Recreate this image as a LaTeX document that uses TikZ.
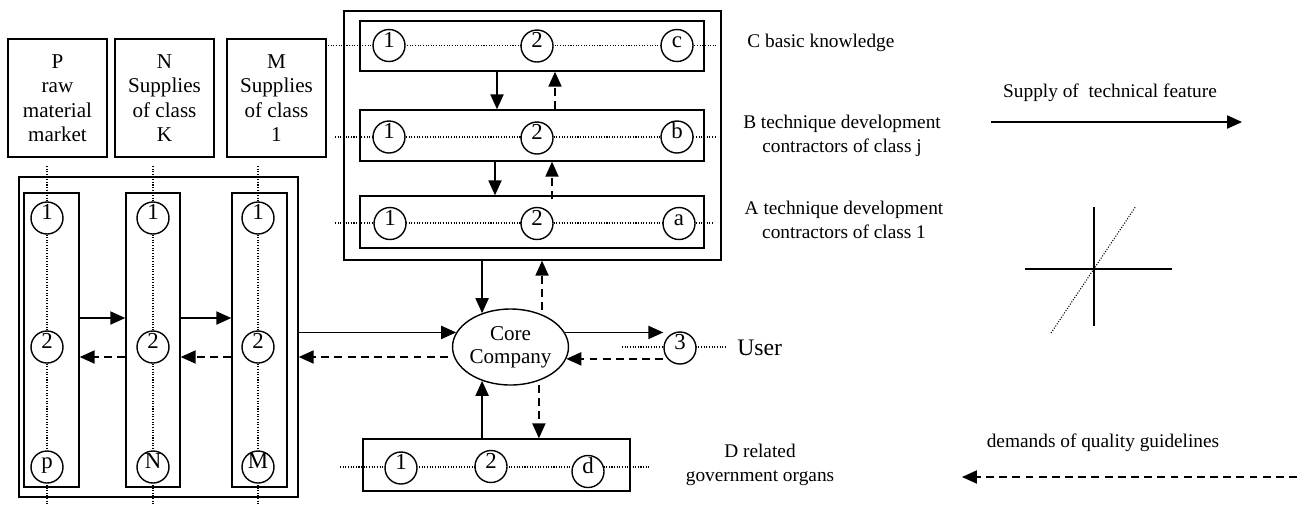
\documentclass[tikz,border=0pt]{standalone}
\usepackage{fontspec}
\setmainfont{Liberation Serif}
\usetikzlibrary{arrows.meta,calc,shapes.geometric}
\newlength\pxu
\setlength\pxu{0.02cm}
\tikzset{
  box/.style={draw, line width=0.8pt, inner sep=0pt},
  boxtxt/.style={box, align=center, font=\fontsize{12}{13.9}\selectfont},
  circ/.style={circle, draw, fill=white, line width=0.8pt, minimum size=32\pxu,
    inner sep=0pt, font=\fontsize{13}{13}\selectfont},
  dotline/.style={line width=0.6pt, dash pattern=on 0.6pt off 0.9pt},
  sol/.style={line width=0.8pt, -{Triangle[length=8.5pt,width=7.5pt]}},
  dsh/.style={sol, dash pattern=on 4.5pt off 3pt},
  lbl/.style={align=center, font=\fontsize{11}{13.6}\selectfont, inner sep=0pt},
}
% circle labels sit in the upper half, baseline near the centre
\newcommand\ctext[1]{\raisebox{-0.9pt}[0pt][0pt]{#1}}
\begin{document}
\begin{tikzpicture}[x=\pxu, y=-\pxu]
\useasboundingbox (0,0) rectangle (1297,505);

% ---------- supplier chain (left) ----------
\node[boxtxt, minimum width=99\pxu, minimum height=118\pxu] (P) at (57.5,98) {P\\raw\\material\\market};
\node[boxtxt, minimum width=99\pxu, minimum height=118\pxu] (N) at (164.5,98) {N\\Supplies\\of class\\K};
\node[boxtxt, minimum width=99\pxu, minimum height=118\pxu] (M) at (276.5,98) {M\\Supplies\\of class\\1};

\node[box, minimum width=279\pxu, minimum height=320\pxu] (chain) at (158.5,337) {};
\node[box, minimum width=55\pxu, minimum height=294\pxu] (pcol) at (51.5,340) {};
\node[box, minimum width=54\pxu, minimum height=294\pxu] (ncol) at (153,340) {};
\node[box, minimum width=55\pxu, minimum height=294\pxu] (mcol) at (259.5,340) {};

\draw[dotline] (47,166) -- (47,505);
\draw[dotline] (153,166) -- (153,505);
\draw[dotline] (258,166) -- (258,505);

\node[circ] (p1) at (47,218) {\ctext{1}};
\node[circ] (p2) at (47,347) {\ctext{2}};
\node[circ] (pp) at (47,467) {\ctext{p}};
\node[circ] (n1) at (153,218) {\ctext{1}};
\node[circ] (n2) at (153,347) {\ctext{2}};
\node[circ] (nn) at (153,467) {\ctext{N}};
\node[circ] (m1) at (258,218) {\ctext{1}};
\node[circ] (m2) at (258,347) {\ctext{2}};
\node[circ] (mm) at (258,467) {\ctext{M}};

\draw[sol] (pcol.east |- 0,318) -- (ncol.west |- 0,318);
\draw[sol] (ncol.east |- 0,318) -- (mcol.west |- 0,318);
\draw[dsh] (ncol.west |- 0,357) -- (pcol.east |- 0,357);
\draw[dsh] (mcol.west |- 0,357) -- (ncol.east |- 0,357);

% ---------- technique contractors (top) ----------
\node[box, minimum width=377\pxu, minimum height=249\pxu] (top) at (532.5,135.5) {};
\node[box, minimum width=344\pxu, minimum height=50\pxu] (cbox) at (532,46) {};
\node[box, minimum width=344\pxu, minimum height=51\pxu] (bbox) at (532,135.5) {};
\node[box, minimum width=344\pxu, minimum height=52\pxu] (abox) at (532,222) {};

\draw[dotline] (328,45.5) -- (717,45.5);
\draw[dotline] (335,137) -- (717,137);
\draw[dotline] (335,223) -- (714,223);

\node[circ] (c1) at (389,45.5) {\ctext{1}};
\node[circ] (c2) at (537,46) {\ctext{2}};
\node[circ] (cc) at (677,45.5) {\ctext{c}};
\node[circ] (b1) at (389,137) {\ctext{1}};
\node[circ] (b2) at (537,138) {\ctext{2}};
\node[circ] (bb) at (677,137) {\ctext{b}};
\node[circ] (a1) at (390,223.5) {\ctext{1}};
\node[circ] (a2) at (537,223.5) {\ctext{2}};
\node[circ] (aa) at (679,223.5) {\ctext{a}};

\draw[sol] (cbox.south -| 497,0) -- (bbox.north -| 497,0);
\draw[dsh] (bbox.north -| 555,0) -- (cbox.south -| 555,0);
\draw[sol] (bbox.south -| 495,0) -- (abox.north -| 495,0);
\draw[dsh] ([yshift=-4\pxu]abox.north -| 552,0) -- (bbox.south -| 552,0);

% ---------- core company ----------
\node[draw, ellipse, line width=0.8pt, minimum width=115\pxu, minimum height=76\pxu,
  inner sep=0pt, align=center, font=\fontsize{12}{13}\selectfont] (core) at (510.5,347) {Core\\Company};

\draw[sol] (top.south -| core.130) -- (core.130);
\draw[dsh, shorten <=4\pxu] (core.46) -- (top.south -| core.46);

\draw[sol] (chain.east |- core.165) -- (core.165);
\draw[dsh, shorten <=6\pxu] (core.190) -- (chain.east |- core.190);

% ---------- government organs ----------
\node[box, minimum width=267\pxu, minimum height=52\pxu] (dbox) at (496.5,465) {};
\draw[dotline] (340,467) -- (650,467);
\node[circ] (d1) at (401,468) {\ctext{1}};
\node[circ] (d2) at (491,466.5) {\ctext{2}};
\node[circ] (dd) at (588,471.5) {\ctext{d}};

\draw[sol] (dbox.north -| core.-130) -- (core.-130);
\draw[dsh, shorten <=4\pxu] (core.-50) -- (dbox.north -| core.-50);

% ---------- user ----------
\draw[dotline] (622,347) -- (727,347);
\node[circ] (u3) at (680,348) {\ctext{3}};
\node[anchor=west, inner sep=0pt, font=\fontsize{13.5}{14}\selectfont] (user) at (737,348) {User};
\draw[sol] (core.15) -- (core.15 -| u3.west);
\draw[dsh] (core.-12 -| u3.west) -- (core.-12);

% ---------- labels ----------
\node[lbl, anchor=west] (lc) at (747,43) {C basic knowledge};
\node[lbl] (lb) at (842,136) {B technique development\\contractors of class j};
\node[lbl] (la) at (844,220) {A technique development\\contractors of class 1};
\node[lbl] (ld) at (760,465) {D related\\government organs};

% ---------- legend ----------
\node[lbl] (lsup) at (1110,93) {Supply of\ \ technical feature};
\coordinate (sup1) at (991,122);
\coordinate (sup2) at (1242,122);
\draw[sol] (sup1) -- (sup2);

\draw[line width=0.8pt] (1094,207) -- (1094,326);
\draw[line width=0.8pt] (1025,269) -- (1172,269);
\draw[dotline] (1051,333) -- (1136,206);

\node[lbl] (ldem) at (1103,443) {demands of quality guidelines};
\coordinate (dem1) at (1297,477);
\coordinate (dem2) at (962,477);
\draw[dsh] (dem1) -- (dem2);
\end{tikzpicture}
\end{document}
